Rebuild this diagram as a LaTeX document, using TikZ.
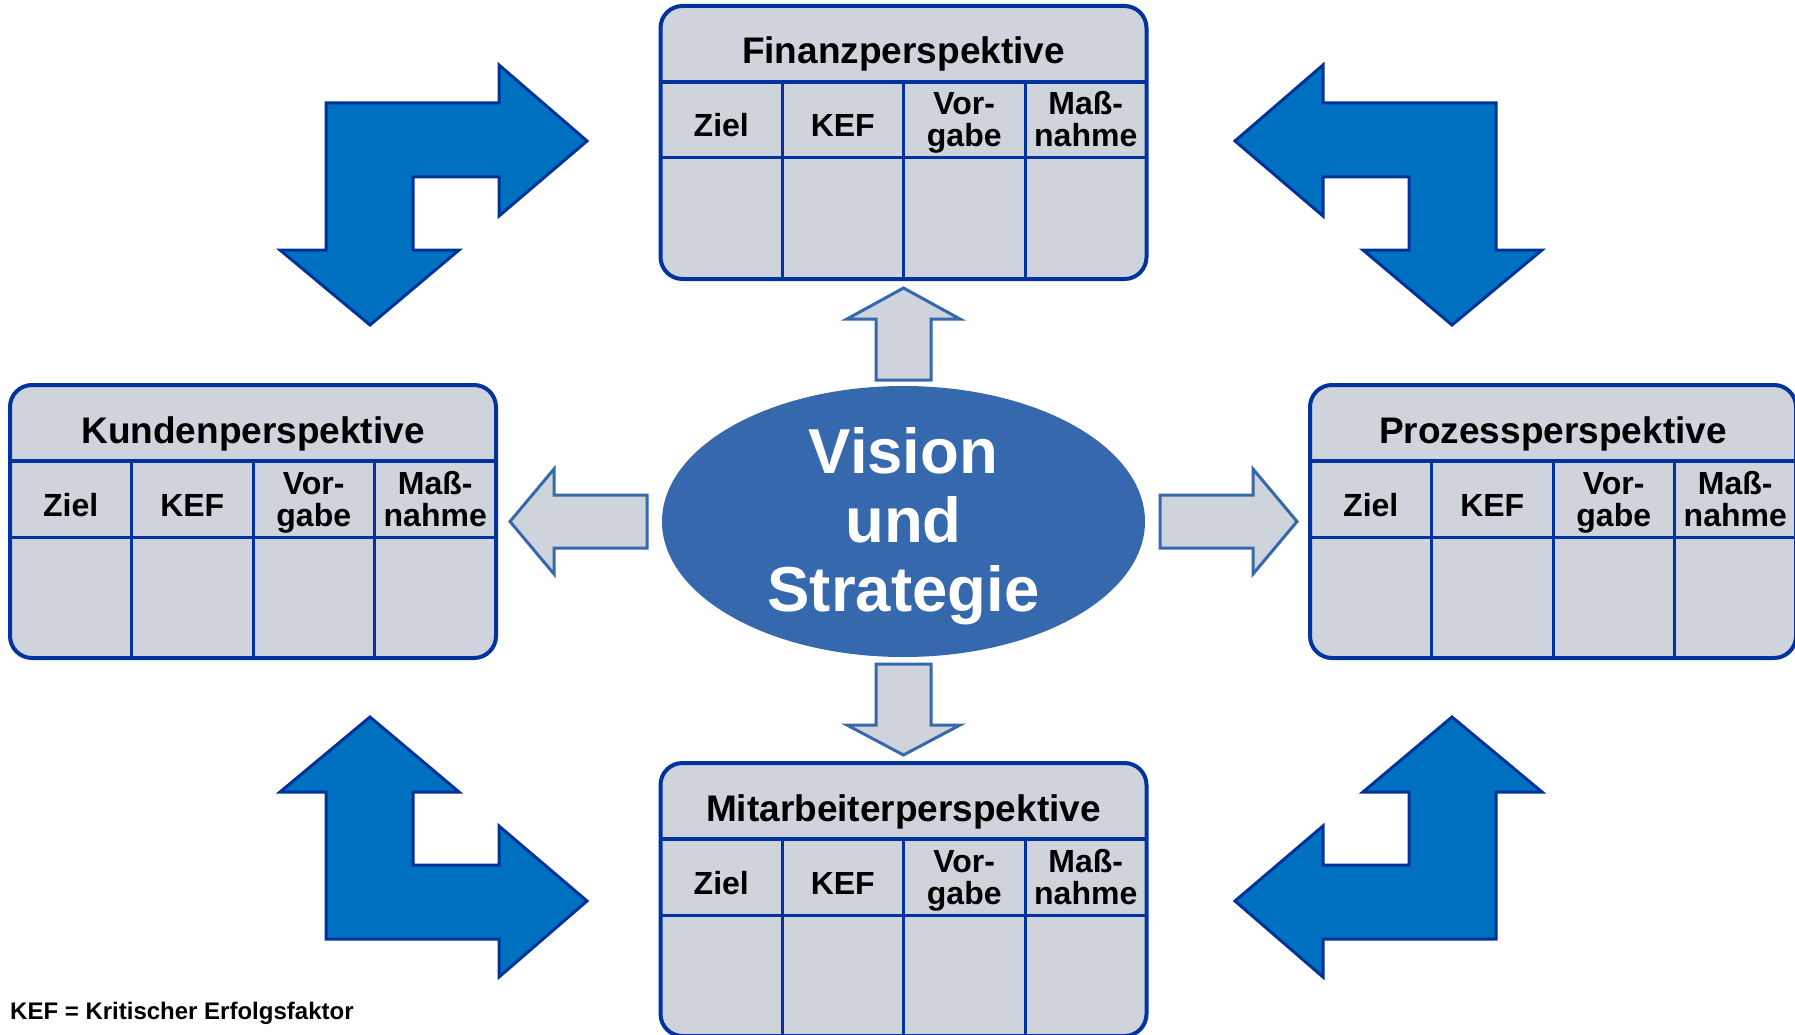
\documentclass[tikz,border=0pt]{standalone}
\usepackage{fontspec}
\setmainfont{Liberation Sans}
\usetikzlibrary{shapes.geometric}
\definecolor{boxfill}{HTML}{CFD3DC}
\definecolor{boxline}{HTML}{0033A0}
\definecolor{ellfill}{HTML}{3568AC}
\definecolor{bluefill}{HTML}{0070C0}
\definecolor{blueline}{HTML}{003399}
\tikzset{
  pbox/.style={draw=boxline, fill=boxfill, line width=4pt, rounded corners=22pt,
    minimum width=486pt, minimum height=273pt, inner sep=0pt, outer sep=0pt},
  hline/.style={draw=boxline, line width=4pt},
  gline/.style={draw=boxline, line width=3pt},
  ttl/.style={anchor=base, inner sep=0pt, font=\fontsize{37}{40}\selectfont\bfseries},
  lbl/.style={anchor=base, inner sep=0pt, font=\fontsize{32}{34}\selectfont\bfseries},
  vis/.style={anchor=base, inner sep=0pt, text=white, font=\fontsize{63.5}{69}\selectfont\bfseries},
  barrow/.style={draw=blueline, fill=bluefill, line width=3pt, line join=miter},
  sarrow/.style={draw=ellfill, fill=boxfill, line width=3pt, line join=miter},
}
\newcommand\perspbox[4]{%
  \node[pbox] (#1) at (#2,#3) {};
  \draw[hline] ([yshift=-76pt]#1.north west) -- ([yshift=-76pt]#1.north east);
  \draw[gline] ([yshift=-152pt]#1.north west) -- ([yshift=-152pt]#1.north east);
  \draw[gline] ([xshift=121.5pt,yshift=-76pt]#1.north west) -- ([xshift=121.5pt]#1.south west);
  \draw[gline] ([xshift=243pt,yshift=-76pt]#1.north west) -- ([xshift=243pt]#1.south west);
  \draw[gline] ([xshift=364.5pt,yshift=-76pt]#1.north west) -- ([xshift=364.5pt]#1.south west);
  \node[ttl] (#1-title) at ([yshift=-58pt]#1.north) {#4};
  \node[lbl] (#1-ziel) at ([xshift=60.75pt,yshift=-131pt]#1.north west) {Ziel};
  \node[lbl] (#1-kef) at ([xshift=182.25pt,yshift=-131pt]#1.north west) {KEF};
  \node[lbl] (#1-vora) at ([xshift=303.75pt,yshift=-109pt]#1.north west) {Vor-};
  \node[lbl] (#1-vorb) at ([xshift=303.75pt,yshift=-141pt]#1.north west) {gabe};
  \node[lbl] (#1-masa) at ([xshift=425.25pt,yshift=-109pt]#1.north west) {Maß-};
  \node[lbl] (#1-masb) at ([xshift=425.25pt,yshift=-141pt]#1.north west) {nahme};
}
\newcommand\bluearrow[2]{%
  \begin{scope}[shift={(911,521)}, xscale=#1, yscale=#2]
    \draw[barrow] (-324,-380) -- (-412,-305) -- (-412,-344) -- (-498,-344) -- (-498,-271)
      -- (-452,-271) -- (-541,-196) -- (-631,-271) -- (-585,-271) -- (-585,-418)
      -- (-412,-418) -- (-412,-456) -- cycle;
  \end{scope}}
\begin{document}
\begin{tikzpicture}[x=1pt,y=-1pt]
\useasboundingbox (0,0) rectangle (1795,1035);
% corner arrows
\bluearrow{1}{1}
\bluearrow{-1}{1}
\bluearrow{1}{-1}
\bluearrow{-1}{-1}
% boxes
\perspbox{fin}{903.5}{142.5}{Finanzperspektive}
\perspbox{kun}{253}{521.5}{Kundenperspektive}
\perspbox{pro}{1553}{521.5}{Prozessperspektive}
\perspbox{mit}{903.5}{899.5}{Mitarbeiterperspektive}
% ellipse
\node[ellipse, fill=ellfill, minimum width=483pt, minimum height=271pt, inner sep=0pt] (vs) at (903.5,521.5) {};
\node[vis] (vs1) at (903.5,473) {Vision};
\node[vis] (vs2) at (903.5,542) {und};
\node[vis] (vs3) at (903.5,611) {Strategie};
% small arrows
\draw[sarrow] (903.5,288) -- (960,319) -- (931,319) -- (931,380) -- (876,380) -- (876,319) -- (847,319) -- cycle;
\draw[sarrow] (903.5,755) -- (960,725) -- (931,725) -- (931,664) -- (876,664) -- (876,725) -- (847,725) -- cycle;
\draw[sarrow] (510,521.5) -- (554,469) -- (554,495) -- (647,495) -- (647,548) -- (554,548) -- (554,574) -- cycle;
\draw[sarrow] (1297,521.5) -- (1253,469) -- (1253,495) -- (1160,495) -- (1160,548) -- (1253,548) -- (1253,574) -- cycle;
% footnote
\node[anchor=base west, inner sep=0pt, font=\fontsize{24}{26}\selectfont\bfseries] (fn) at (10,1019) {KEF = Kritischer Erfolgsfaktor};
\end{tikzpicture}
\end{document}
